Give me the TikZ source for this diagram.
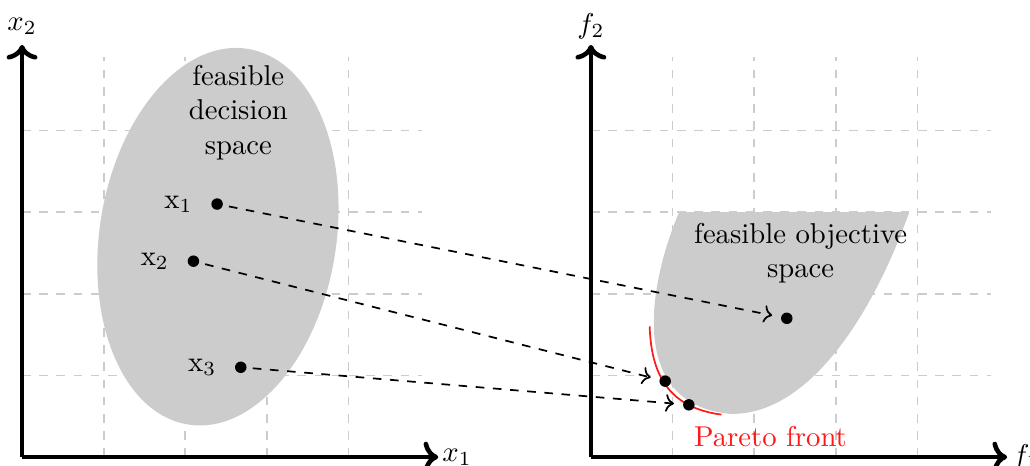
\documentclass[tikz,border=0pt]{standalone}
\usepackage{amsmath}
\usetikzlibrary{arrows.meta,positioning}

\begin{document}
\begin{tikzpicture}[
      every node/.style={font=\normalsize},
      axis/.style={->, line width=1.6pt},
      gridline/.style={dashed, black!20, line width=0.6pt},
      region/.style={fill=black!20, draw=none},
      pt/.style={circle, fill=black, inner sep=0pt, minimum size=4pt},
      map/.style={->, dashed, semithick, shorten <=2pt, shorten >=3pt},
      front/.style={red!90, semithick}
    ]
    \useasboundingbox (-0.27,-0.1) rectangle (12.35,5.6);

    % decision space
    \draw[gridline] (0,0) grid (4.9,4.9);
    \fill[region, rotate around={-9:(2.4,2.7)}] (2.4,2.7) ellipse (1.45 and 2.33);
    \coordinate (O1) at (0,0);
    \coordinate (X1) at (5.1,0);
    \coordinate (X2) at (0,5.05);
    \draw[axis] (O1) -- (X1);
    \draw[axis] (O1) -- (X2);
    \node (lx1) at (5.33,0) {$x_1$};
    \node (lx2) at (0,5.28) {$x_2$};
    \node[align=center] (dspace) at (2.65,4.22) {feasible\\decision\\space};

    \node[pt] (x1) at (2.39,3.10) {};
    \node[pt] (x2) at (2.10,2.40) {};
    \node[pt] (x3) at (2.68,1.10) {};
    \node[left=1mm of x1] (nx1) {$\mathrm{x}_1$};
    \node[left=1mm of x2] (nx2) {$\mathrm{x}_2$};
    \node[left=1mm of x3] (nx3) {$\mathrm{x}_3$};

    % objective space
    \begin{scope}[xshift=6.97cm]
      \draw[gridline] (0,0) grid (4.9,4.9);
      \fill[region] (1.08,3) .. controls (0.70,2.1) and (0.45,0.65) .. (1.7,0.53)
        .. controls (2.6,0.5) and (3.4,1.6) .. (3.9,3) -- cycle;
      \coordinate (O2) at (0,0);
      \coordinate (F1) at (5.1,0);
      \coordinate (F2) at (0,5.05);
      \draw[axis] (O2) -- (F1);
      \draw[axis] (O2) -- (F2);
      \node (lf1) at (5.33,0) {$f_1$};
      \node (lf2) at (0,5.28) {$f_2$};
      \node[align=center] (ospace) at (2.57,2.5) {feasible objective\\space};

      \draw[front] (0.72,1.6) .. controls (0.74,0.95) and (1.0,0.6) .. (1.6,0.52);
      \node[text=red!90] (pareto) at (2.2,0.25) {Pareto front};

      \node[pt] (f1) at (2.40,1.70) {};
      \node[pt] (f2) at (0.91,0.93) {};
      \node[pt] (f3) at (1.20,0.64) {};
    \end{scope}

    \draw[map] (x1) -- (f1);
    \draw[map] (x2) -- (f2);
    \draw[map] (x3) -- (f3);
  \end{tikzpicture}
\end{document}
